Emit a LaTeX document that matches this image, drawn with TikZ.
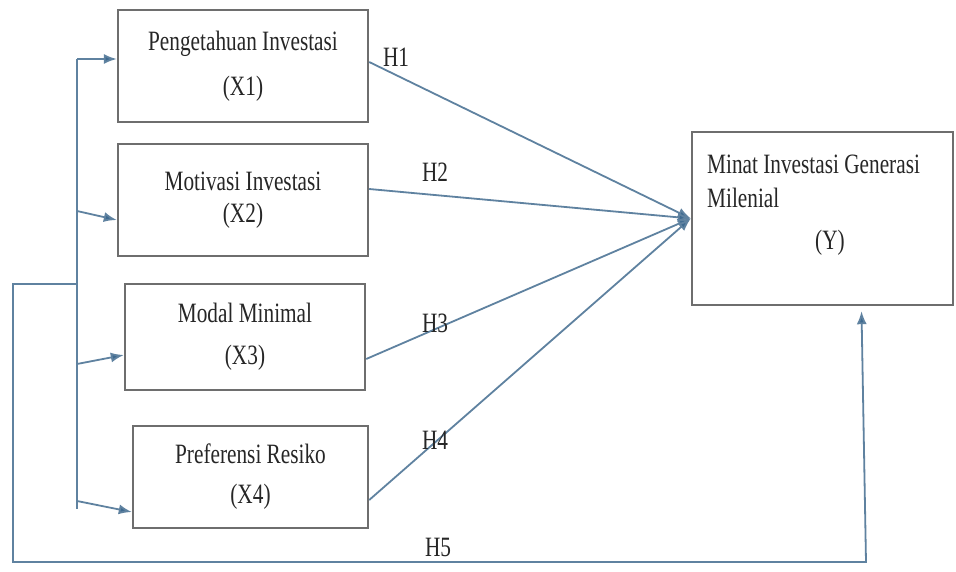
\documentclass[tikz,border=0pt]{standalone}
\usepackage{fontspec}
\setmainfont{Liberation Serif}[FakeStretch=0.76]
\usetikzlibrary{arrows.meta}
\definecolor{boxgray}{HTML}{6E6E6E}
\definecolor{linkblue}{HTML}{5F82A0}
\definecolor{tipblue}{HTML}{3E6A90}

\begin{document}
\begin{tikzpicture}[x=1pt,y=-1pt,
  var/.style={draw=boxgray,line width=2.4pt,align=center,inner sep=0pt,
    font=\fontsize{28}{30}\selectfont,text=black!85},
  link/.style={draw=linkblue,line width=1.8pt,-{Latex[length=13pt,width=10pt,fill=tipblue]}},
  wire/.style={draw=linkblue,line width=1.8pt},
  hyp/.style={font=\fontsize{28}{30}\selectfont,text=black!85,inner sep=0pt}]

\fill[white] (0,0) rectangle (956,572);
\useasboundingbox (0,0) rectangle (956,572);

% variables
\node[var,minimum width=250pt,minimum height=112pt] (X1) at (243,66) {Pengetahuan Investasi\\[15pt](X1)};
\node[var,minimum width=250pt,minimum height=112pt] (X2) at (243,200) {Motivasi Investasi\\[2pt](X2)};
\node[var,minimum width=240pt,minimum height=106pt] (X3) at (245,337) {Modal Minimal\\[12pt](X3)};
\node[var,minimum width=235pt,minimum height=102pt] (X4) at (250.5,477) {Preferensi Resiko\\[10pt](X4)};

\node[var,minimum width=261pt,minimum height=173pt] (Y) at (822.5,218.5) {};
\node[hyp,anchor=north west,align=left] (Ytext) at (707,155) {Minat Investasi Generasi\\[4pt]Milenial\\[12pt]\hspace*{108pt}(Y)};

% bracket on the left
\coordinate (b1) at (77,59);
\coordinate (b2) at (77,211);
\coordinate (b3) at (77,364);
\coordinate (b4) at (77,501);
\coordinate (bend) at (77,509);
\coordinate (b5) at (77,284);
\coordinate (l1) at (13,284);
\coordinate (l2) at (13,562);
\coordinate (l3) at (866,562);

\draw[wire] (b1) -- (bend);
\draw[link] (b1) -- (b1 -| X1.west);
\draw[link] (b2) -- ([yshift=-20pt]X2.west);
\draw[link] (b3) -- ([yshift=-18pt]X3.west);
\draw[link] (b4) -- ([yshift=-35pt]X4.west);

% hypotheses
\draw[link] ([yshift=4pt]X1.east) -- (Y.west);
\draw[link] ([yshift=11pt]X2.east) -- (Y.west);
\draw[link] ([yshift=-22pt]X3.east) -- (Y.west);
\draw[link] ([yshift=-23pt]X4.east) -- (Y.west);
\draw[link] (b5) -- (l1) -- (l2) -- (l3) -- ([xshift=39pt,yshift=-5pt]Y.south);

\node[hyp] (h1) at (396,57) {H1};
\node[hyp] (h2) at (435,172) {H2};
\node[hyp] (h3) at (435,323) {H3};
\node[hyp] (h4) at (435,440) {H4};
\node[hyp] (h5) at (438,547) {H5};

\end{tikzpicture}
\end{document}
